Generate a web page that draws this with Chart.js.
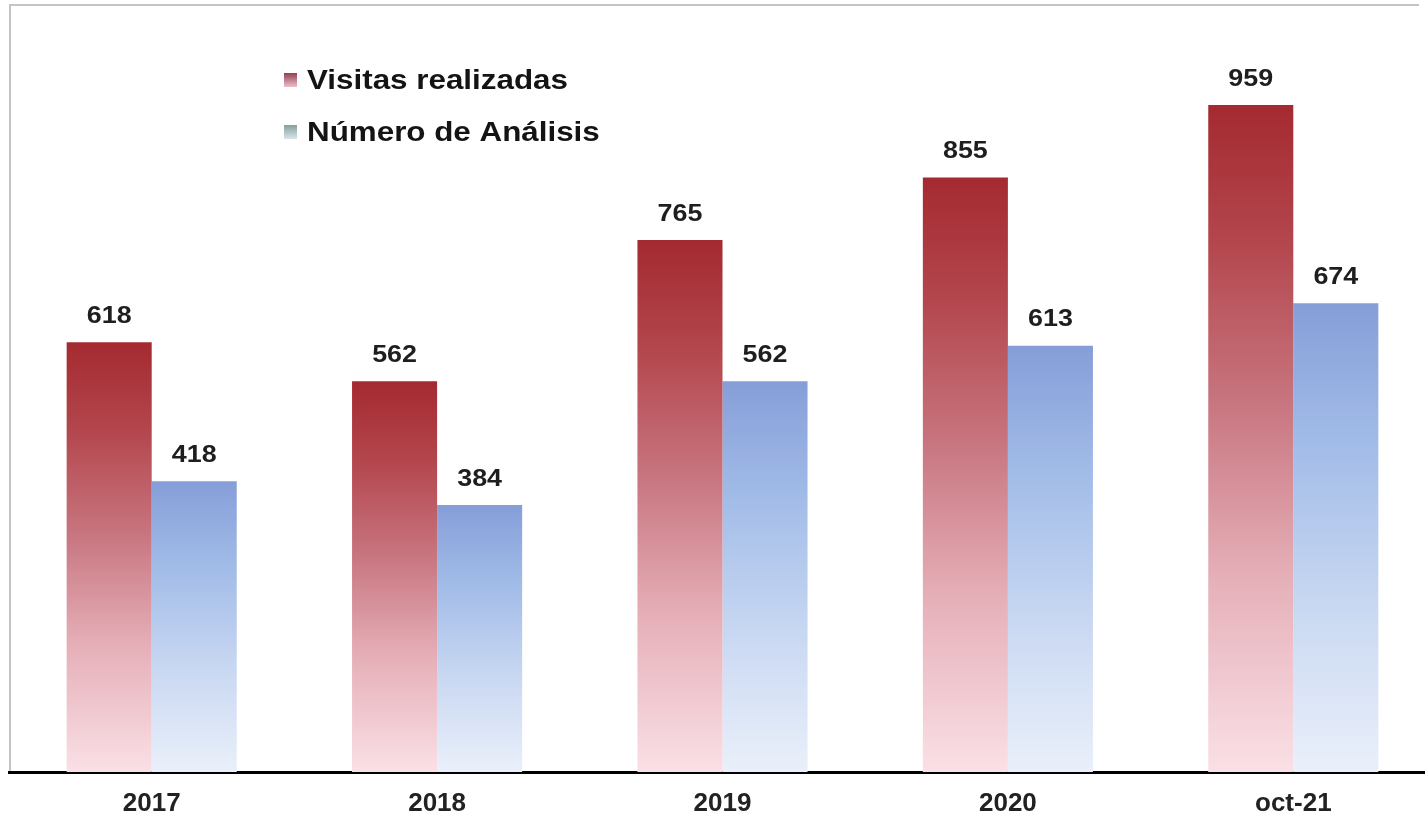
<!DOCTYPE html>
<html>
<head>
<meta charset="utf-8">
<title>Visitas realizadas y Número de Análisis</title>
<script src="https://cdn.jsdelivr.net/npm/chart.js@4/dist/chart.umd.min.js"></script>
<style>
  html, body { margin: 0; padding: 0; background: #ffffff; overflow: hidden; }
  #wrap { position: relative; width: 1436px; height: 820px; }
</style>
</head>
<body>
<div id="wrap"><canvas id="chart"></canvas></div>
<script>
// Years shown on the horizontal axis
const categories = ['2017', '2018', '2019', '2020', 'oct-21'];
// Series values
const visitasRealizadas = [618, 562, 765, 855, 959];
const numeroAnalisis = [418, 384, 562, 613, 674];
const seriesNames = ['Visitas realizadas', 'Número de Análisis'];

const FONT = "'Liberation Sans', Arial, sans-serif";
const TEXT_STRETCH = 1.12; // text is drawn slightly wide

// Vertical fade for each bar: saturated at the top, pale at the base
const redStops = [[0, '#a42a30'], [0.2, '#b3454c'], [0.45, '#c87680'], [0.7, '#e5aeb7'], [1, '#fae0e6']];
const blueStops = [[0, '#869ed8'], [0.3, '#a2bce8'], [0.65, '#c9d8f2'], [1, '#eaf0fa']];

function barFade(stops) {
  return function (ctx) {
    const chart = ctx.chart;
    if (ctx.type !== 'data' || !chart.chartArea) return stops[0][1];
    const y = chart.scales.y;
    const top = y.getPixelForValue(ctx.raw);
    const base = y.getPixelForValue(0);
    const g = chart.ctx.createLinearGradient(0, top, 0, base);
    stops.forEach(s => g.addColorStop(s[0], s[1]));
    return g;
  };
}

// Thin grey frame along the top and left of the plot
const framePlugin = {
  id: 'frame',
  beforeDraw(chart) {
    const c = chart.ctx;
    c.save();
    c.strokeStyle = '#c4c4c4';
    c.lineWidth = 2;
    c.beginPath();
    c.moveTo(10, chart.chartArea.bottom);
    c.lineTo(10, 5);
    c.lineTo(1419, 5);
    c.stroke();
    c.restore();
  }
};

// Value written above every bar
const valueLabels = {
  id: 'valueLabels',
  afterDatasetsDraw(chart) {
    const c = chart.ctx;
    c.save();
    c.fillStyle = '#1e1e1e';
    c.font = 'bold 24px ' + FONT;
    c.textAlign = 'center';
    c.textBaseline = 'middle';
    chart.data.datasets.forEach((ds, di) => {
      chart.getDatasetMeta(di).data.forEach((bar, i) => {
        c.save();
        c.translate(bar.x, bar.y - 26);
        c.scale(TEXT_STRETCH, 1);
        c.fillText(String(ds.data[i]), 0, 0);
        c.restore();
      });
    });
    c.restore();
  }
};

// Legend inside the plot, top left
const innerLegend = {
  id: 'innerLegend',
  afterDraw(chart) {
    const c = chart.ctx;
    const markers = [
      ['#8a3848', '#f4c8d4'],
      ['#7e9c98', '#dfeaf0']
    ];
    const x0 = 284, rows = [80, 132];
    c.save();
    chart.data.datasets.forEach((ds, i) => {
      const y = rows[i];
      const g = c.createLinearGradient(0, y - 8, 0, y + 8);
      g.addColorStop(0, markers[i][0]);
      g.addColorStop(1, markers[i][1]);
      c.fillStyle = g;
      c.fillRect(x0, y - 7, 13, 14);
      c.fillStyle = '#141414';
      c.font = 'bold 28px ' + FONT;
      c.textAlign = 'left';
      c.textBaseline = 'middle';
      c.save();
      c.translate(x0 + 23, y + 1);
      c.scale(TEXT_STRETCH, 1);
      c.fillText(ds.label, 0, 0);
      c.restore();
    });
    c.restore();
  }
};

new Chart(document.getElementById('chart'), {
  type: 'bar',
  data: {
    labels: categories,
    datasets: [
      {
        label: seriesNames[0],
        data: visitasRealizadas,
        backgroundColor: barFade(redStops),
        borderWidth: 0
      },
      {
        label: seriesNames[1],
        data: numeroAnalisis,
        backgroundColor: barFade(blueStops),
        borderWidth: 0
      }
    ]
  },
  options: {
    responsive: true,
    maintainAspectRatio: false,
    animation: false,
    layout: { padding: { left: 9, right: 0, top: 7, bottom: 0 } },
    datasets: { bar: { barPercentage: 1, categoryPercentage: 0.596 } },
    plugins: {
      legend: { display: false },
      tooltip: { enabled: false }
    },
    scales: {
      x: {
        grid: { display: false, drawTicks: false },
        border: { display: true, color: '#000000', width: 3 },
        ticks: {
          color: '#222222',
          font: { family: FONT, size: 26, weight: 'bold' },
          padding: 16
        },
        afterFit(scale) { scale.height = 48; }
      },
      y: {
        display: false,
        min: 0,
        max: 1100
      }
    }
  },
  plugins: [framePlugin, valueLabels, innerLegend]
});
</script>
</body>
</html>
